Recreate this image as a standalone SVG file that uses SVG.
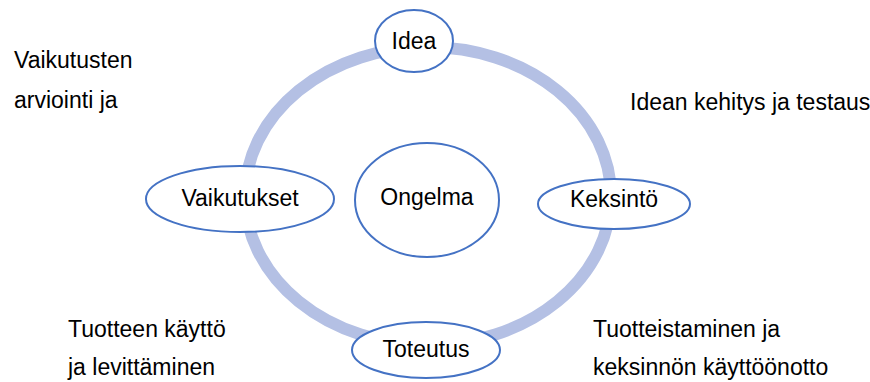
<svg xmlns="http://www.w3.org/2000/svg" width="870" height="382" viewBox="0 0 870 382">
<style>
.n{fill:#fff;stroke:#4472c4;stroke-width:2}
.t{font-family:"Liberation Sans",Arial,sans-serif;font-size:23px;fill:#000}
.c{text-anchor:middle}
</style>
<rect width="870" height="382" fill="#fff"/>
<g id="connectors">
<ellipse cx="428" cy="196" rx="183" ry="149" fill="none" stroke="#b4c0e4" stroke-width="12"/>
</g>
<g id="idea"><ellipse class="n" cx="414" cy="41" rx="39" ry="31"/><text class="t c" x="414" y="49">Idea</text></g>
<g id="vaikutukset"><ellipse class="n" cx="240" cy="199" rx="94" ry="33"/><text class="t c" x="240" y="206">Vaikutukset</text></g>
<g id="ongelma"><ellipse class="n" cx="427" cy="200" rx="72" ry="57"/><text class="t c" x="427" y="205">Ongelma</text></g>
<g id="keksinto"><ellipse class="n" cx="614" cy="204" rx="76" ry="25"/><text class="t c" x="614" y="207">Keksintö</text></g>
<g id="toteutus"><ellipse class="n" cx="426" cy="350" rx="74" ry="28"/><text class="t c" x="426" y="357">Toteutus</text></g>
<g id="labels">
<text class="t" x="14" y="68">Vaikutusten</text>
<text class="t" x="14" y="108">arviointi ja</text>
<text class="t" x="630" y="110">Idean kehitys ja testaus</text>
<text class="t" x="68" y="337">Tuotteen käyttö</text>
<text class="t" x="68" y="375">ja levittäminen</text>
<text class="t" x="593" y="337">Tuotteistaminen ja</text>
<text class="t" x="593" y="375">keksinnön käyttöönotto</text>
</g>
</svg>
